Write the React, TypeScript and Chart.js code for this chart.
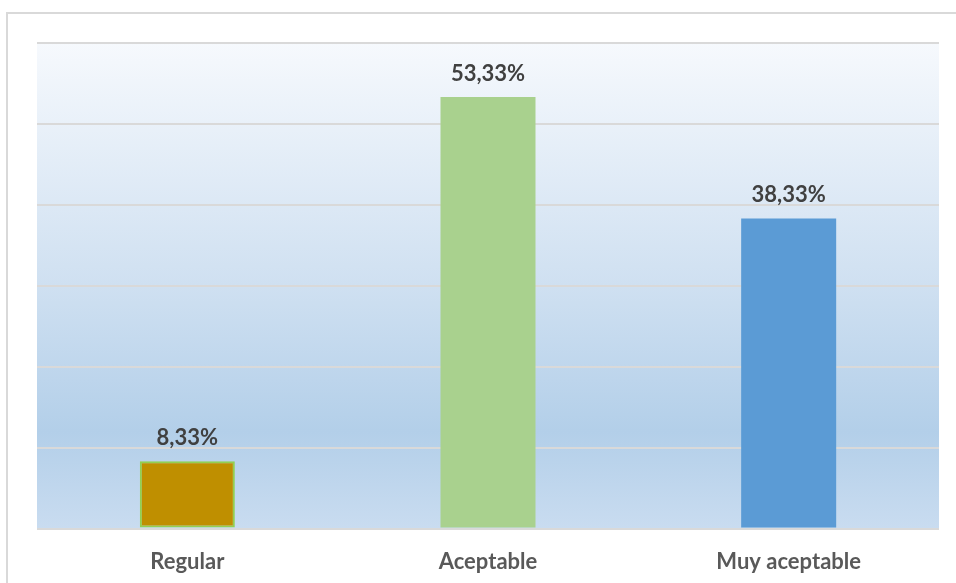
import React, { useEffect, useRef } from "react";
import { Chart, registerables } from "chart.js";

Chart.register(...registerables);

const categories = ["Regular", "Aceptable", "Muy aceptable"];
const values = [8.33, 53.33, 38.33];
const barColors = ["#bf8f00", "#a9d18e", "#5b9bd5"];
const barBorderColors = ["#92d050", "#a9d18e", "#5b9bd5"];
const barBorderWidths = [2, 0, 0];
const yMax = 60;
const yStep = 10;

const FONT = "Lato, 'Open Sans', sans-serif";

const bgPlugin = {
  id: "plotBg",
  beforeDraw(chart: any) {
    const { ctx, chartArea } = chart;
    if (!chartArea) return;
    const g = ctx.createLinearGradient(0, chartArea.top, 0, chartArea.bottom);
    g.addColorStop(0, "#f6f9fd");
    g.addColorStop(0.5, "#cfe0f1");
    g.addColorStop(0.8, "#b3cfe9");
    g.addColorStop(1, "#c9dcf0");
    ctx.save();
    ctx.fillStyle = g;
    ctx.fillRect(chartArea.left, chartArea.top, chartArea.right - chartArea.left, chartArea.bottom - chartArea.top);
    ctx.restore();
  },
};

const labelPlugin = {
  id: "valueLabels",
  afterDatasetsDraw(chart: any) {
    const { ctx } = chart;
    const meta = chart.getDatasetMeta(0);
    ctx.save();
    ctx.font = `bold 22px ${FONT}`;
    ctx.fillStyle = "#404040";
    ctx.textAlign = "center";
    ctx.textBaseline = "alphabetic";
    meta.data.forEach((bar: any, i: number) => {
      const txt = values[i].toFixed(2).replace(".", ",") + "%";
      ctx.fillText(txt, bar.x, bar.y - 16);
    });
    ctx.restore();
  },
};

export default function App() {
  const ref = useRef<HTMLCanvasElement>(null);
  useEffect(() => {
    if (!ref.current) return;
    const chart = new Chart(ref.current, {
      type: "bar",
      data: {
        labels: categories,
        datasets: [
          {
            data: values,
            backgroundColor: barColors,
            borderColor: barBorderColors,
            borderWidth: barBorderWidths,
            borderSkipped: false,
            categoryPercentage: 1,
            barPercentage: 0.316,
          },
        ],
      },
      options: {
        animation: false,
        responsive: false,
        devicePixelRatio: 1,
        layout: { padding: { left: 37, top: 43, right: 17, bottom: 10 } },
        plugins: { legend: { display: false }, tooltip: { enabled: false } },
        scales: {
          x: {
            grid: { display: false, drawTicks: false },
            border: { display: false },
            ticks: {
              padding: 20,
              color: "#595959",
              font: { family: FONT, size: 22, weight: "bold" },
            },
          },
          y: {
            min: 0,
            max: yMax,
            ticks: { display: false, stepSize: yStep },
            grid: { color: "#d9d9d9", lineWidth: 2, drawTicks: false },
            border: { display: false },
          },
        },
      },
      plugins: [bgPlugin, labelPlugin],
    });
    return () => chart.destroy();
  }, []);
  return (
    <div style={{ position: "fixed", left: 0, top: 0, width: 956, height: 583, background: "#fff", overflow: "hidden" }}>
      <div
        style={{
          position: "absolute",
          left: 6,
          top: 12,
          width: 1200,
          height: 1200,
          borderTop: "2px solid #d9d9d9",
          borderLeft: "2px solid #d9d9d9",
        }}
      />
      <canvas ref={ref} width={956} height={605} style={{ position: "absolute", left: 0, top: 0 }} />
    </div>
  );
}
